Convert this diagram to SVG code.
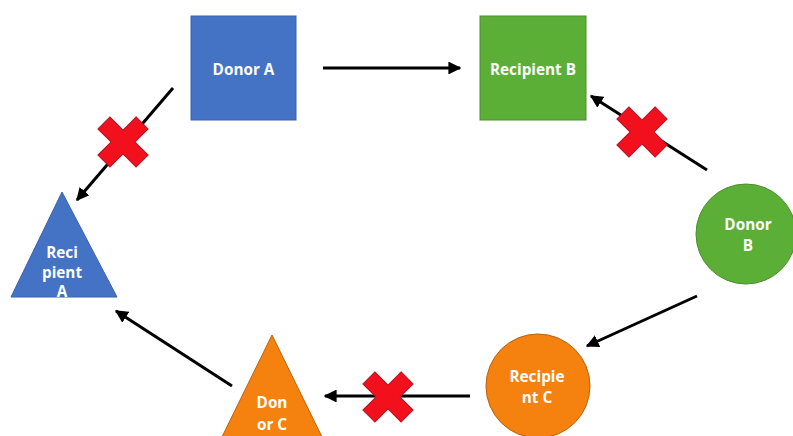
<svg xmlns="http://www.w3.org/2000/svg" width="793" height="436" viewBox="0 0 793 436">
<defs>
<style>
.lbl{font-family:"Open Sans","Liberation Sans",sans-serif;font-weight:bold;font-size:15.3px;fill:#fff;text-anchor:middle}
.blue{fill:#4472C4;stroke:#3A62AA;stroke-width:1}
.green{fill:#5BAF36;stroke:#4A8F2C;stroke-width:1}
.orange{fill:#F5820F;stroke:#B8620E;stroke-width:1}
.arr{stroke:#000;stroke-width:3;fill:none;marker-end:url(#ah)}
.x{fill:#F2101C;stroke:#B0142A;stroke-width:1}
</style>
<marker id="ah" viewBox="0 0 10 10" refX="9" refY="5" markerWidth="4.3" markerHeight="4.3" orient="auto" markerUnits="strokeWidth">
<path d="M0,0 L10,5 L0,10 z" fill="#000"/>
</marker>
<path id="cross" d="M-8.5,-27 L8.5,-27 L8.5,-8.5 L27,-8.5 L27,8.5 L8.5,8.5 L8.5,27 L-8.5,27 L-8.5,8.5 L-27,8.5 L-27,-8.5 L-8.5,-8.5 z" transform="rotate(45)"/>
</defs>
<rect width="793" height="436" fill="#fff"/>
<g id="connectors">
<line class="arr" x1="323" y1="68" x2="460" y2="68"/>
<line class="arr" x1="173" y1="88" x2="77" y2="200"/>
<line class="arr" x1="707" y1="170" x2="591" y2="96"/>
<line class="arr" x1="697" y1="296" x2="587" y2="346"/>
<line class="arr" x1="470" y1="396" x2="325" y2="396"/>
<line class="arr" x1="232" y1="386" x2="116" y2="311"/>
</g>
<g id="blocks">
<use href="#cross" class="x" transform="translate(123,142)"/>
<use href="#cross" class="x" transform="translate(642,132)"/>
<use href="#cross" class="x" transform="translate(388,397)"/>
</g>
<g id="donor-a">
<rect class="blue" x="191" y="16" width="105" height="104"/>
<text class="lbl" x="243.5" y="75">Donor A</text>
</g>
<g id="recipient-b">
<rect class="green" x="480" y="16" width="106" height="104"/>
<text class="lbl" x="533" y="75">Recipient B</text>
</g>
<g id="recipient-a">
<polygon class="blue" points="62,192 117,297 11,297"/>
<text class="lbl" x="62" y="258">Reci</text>
<text class="lbl" x="62" y="278">pient</text>
<text class="lbl" x="62" y="297">A</text>
</g>
<g id="donor-b">
<circle class="green" cx="746" cy="234" r="50"/>
<text class="lbl" x="748" y="230">Donor</text>
<text class="lbl" x="748" y="251">B</text>
</g>
<g id="recipient-c">
<circle class="orange" cx="538" cy="386" r="52"/>
<text class="lbl" x="537" y="382">Recipie</text>
<text class="lbl" x="537" y="403">nt C</text>
</g>
<g id="donor-c">
<polygon class="orange" points="272,335 326,445 218,445"/>
<text class="lbl" x="272" y="408">Don</text>
<text class="lbl" x="272" y="430">or C</text>
</g>
</svg>
